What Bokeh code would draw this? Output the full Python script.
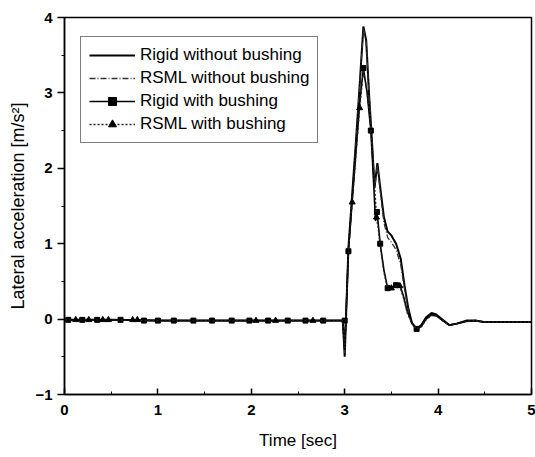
from bokeh.plotting import figure
from bokeh.models import Range1d, FixedTicker, Legend, LegendItem
from bokeh.embed import file_html
from bokeh.resources import INLINE

# ---- data ----
x_ticks = [0, 1, 2, 3, 4, 5]
y_ticks = [-1, 0, 1, 2, 3, 4]

rigid_nb_t = [0, 0.5, 1, 1.5, 2, 2.5, 2.98, 3.0, 3.04, 3.08, 3.12, 3.16, 3.2, 3.23, 3.26, 3.29,
              3.32, 3.35, 3.38, 3.42, 3.46, 3.5, 3.55, 3.6, 3.64, 3.68, 3.72, 3.77, 3.82, 3.87,
              3.93, 3.98, 4.05, 4.12, 4.2, 4.3, 4.4, 4.5, 4.65, 4.8, 5.0]
rigid_nb_a = [-0.01, -0.01, -0.02, -0.02, -0.02, -0.02, -0.02, -0.5, 0.95, 1.65, 2.35, 3.1, 3.88, 3.7, 3.0, 2.4,
              1.75, 2.07, 1.75, 1.35, 1.16, 1.11, 1.0, 0.8, 0.45, 0.15, -0.05, -0.13, -0.08, 0.02,
              0.08, 0.06, -0.01, -0.08, -0.06, -0.02, -0.02, -0.04, -0.04, -0.04, -0.04]

rsml_nb_t = [0, 0.5, 1, 1.5, 2, 2.5, 2.98, 3.0, 3.04, 3.08, 3.12, 3.16, 3.2, 3.23, 3.26, 3.29,
             3.32, 3.35, 3.38, 3.42, 3.46, 3.5, 3.55, 3.6, 3.64, 3.68, 3.72, 3.77, 3.82, 3.87,
             3.93, 3.98, 4.05, 4.12, 4.2, 4.3, 4.4, 4.5, 4.65, 4.8, 5.0]
rsml_nb_a = [-0.01, -0.01, -0.02, -0.02, -0.02, -0.02, -0.02, -0.45, 0.93, 1.62, 2.32, 3.08, 3.86, 3.68, 2.98, 2.38,
             1.73, 2.04, 1.7, 1.28, 1.08, 1.02, 0.92, 0.72, 0.4, 0.12, -0.07, -0.14, -0.1, 0.0,
             0.05, 0.04, -0.02, -0.08, -0.06, -0.03, -0.03, -0.04, -0.04, -0.04, -0.04]

rigid_wb_t = [0, 0.5, 1, 1.5, 2, 2.5, 2.98, 3.0, 3.04, 3.08, 3.12, 3.16, 3.2, 3.24, 3.28, 3.31,
              3.33, 3.345, 3.36, 3.38, 3.42, 3.46, 3.5, 3.55, 3.59, 3.63, 3.67, 3.72, 3.77, 3.82,
              3.87, 3.93, 3.98, 4.05, 4.12, 4.2, 4.3, 4.4, 4.5, 4.65, 4.8, 5.0]
rigid_wb_a = [-0.01, -0.01, -0.02, -0.02, -0.02, -0.02, -0.02, -0.4, 0.9, 1.57, 2.2, 2.85, 3.33, 3.0, 2.5, 1.8,
              1.3, 1.42, 1.25, 1.0, 0.65, 0.41, 0.42, 0.45, 0.46, 0.3, 0.1, -0.05, -0.13, -0.1,
              0.0, 0.06, 0.05, -0.02, -0.08, -0.06, -0.03, -0.02, -0.04, -0.04, -0.04, -0.04]

rsml_wb_t = [0, 0.5, 1, 1.5, 2, 2.5, 2.98, 3.0, 3.04, 3.08, 3.12, 3.16, 3.2, 3.24, 3.28, 3.31,
             3.34, 3.36, 3.38, 3.42, 3.46, 3.5, 3.55, 3.59, 3.63, 3.67, 3.72, 3.77, 3.82,
             3.87, 3.93, 3.98, 4.05, 4.12, 4.2, 4.3, 4.4, 4.5, 4.65, 4.8, 5.0]
rsml_wb_a = [-0.01, -0.01, -0.02, -0.02, -0.02, -0.02, -0.02, -0.38, 0.88, 1.55, 2.18, 2.8, 3.3, 3.02, 2.55, 2.0,
             1.35, 1.2, 0.98, 0.62, 0.4, 0.41, 0.44, 0.44, 0.28, 0.08, -0.06, -0.13, -0.1,
             -0.01, 0.05, 0.04, -0.02, -0.08, -0.06, -0.03, -0.02, -0.04, -0.04, -0.04, -0.04]

rigid_wb_mark_t = [0.04, 0.19, 0.35, 0.6, 0.85, 1.0, 1.17, 1.38, 1.58, 1.79, 1.98, 2.18, 2.39, 2.58, 2.77,
                   3.0, 3.04, 3.2, 3.28, 3.345, 3.38, 3.46, 3.55, 3.77]
rigid_wb_mark_a = [-0.01, -0.01, -0.01, -0.01, -0.02, -0.02, -0.02, -0.02, -0.02, -0.02, -0.02, -0.02, -0.02,
                   -0.02, -0.02, -0.02, 0.9, 3.33, 2.5, 1.42, 1.0, 0.41, 0.45, -0.13]
rsml_wb_mark_t = [0.12, 0.26, 0.41, 0.47, 0.73, 0.78, 2.05, 2.26, 2.66, 3.08, 3.16, 3.34, 3.5, 3.59]
rsml_wb_mark_a = [-0.01, -0.01, -0.01, -0.01, -0.01, -0.01, -0.02, -0.02, -0.02, 1.55, 2.8, 1.35, 0.41, 0.44]

FONT = "Liberation Sans"

p = figure(width=535, height=457, output_backend="svg", toolbar_location=None,
           x_range=Range1d(0, 5), y_range=Range1d(-1, 4),
           min_border_left=64, min_border_right=4, min_border_top=17, min_border_bottom=63)
p.background_fill_color = "white"
p.border_fill_color = "white"
p.outline_line_color = "black"
p.outline_line_width = 1.5
p.grid.visible = False

r1 = p.line(rigid_nb_t, rigid_nb_a, line_color="black", line_width=2)
r2 = p.line(rsml_nb_t, rsml_nb_a, line_color="#333333", line_width=1.3, line_dash="6 2 1 2")
r3 = p.line(rigid_wb_t, rigid_wb_a, line_color="black", line_width=1.6)
r3m = p.scatter(rigid_wb_mark_t, rigid_wb_mark_a, marker="square", size=5, color="black")
r4 = p.line(rsml_wb_t, rsml_wb_a, line_color="#222222", line_width=1.4, line_dash="2 2")
r4m = p.scatter(rsml_wb_mark_t, rsml_wb_mark_a, marker="triangle", size=6, color="black")

xa = p.xaxis[0]
xa.ticker = FixedTicker(ticks=x_ticks, minor_ticks=[0.5, 1.5, 2.5, 3.5, 4.5])
xa.major_tick_in = 6
xa.major_tick_out = 0
xa.minor_tick_in = 3
xa.minor_tick_out = 0
xa.major_label_standoff = 10
xa.axis_label = "Time [sec]"
xa.axis_label_standoff = 13

ya = p.yaxis[0]
ya.ticker = FixedTicker(ticks=y_ticks, minor_ticks=[-0.5, 0.5, 1.5, 2.5, 3.5])
ya.major_tick_in = 0
ya.major_tick_out = 7
ya.minor_tick_in = 0
ya.minor_tick_out = 3
ya.major_label_standoff = 5
ya.axis_label = "Lateral acceleration [m/s²]"
ya.axis_label_standoff = 4

for ax in (xa, ya):
    ax.axis_line_color = "black"
    ax.axis_line_width = 1.5
    ax.major_tick_line_color = "black"
    ax.major_tick_line_width = 1.5
    ax.minor_tick_line_color = "black"
    ax.major_label_text_font = FONT
    ax.major_label_text_font_size = "15px"
    ax.major_label_text_font_style = "bold"
    ax.major_label_text_color = "black"
    ax.axis_label_text_font = FONT
    ax.axis_label_text_font_size = "17px"
    ax.axis_label_text_font_style = "normal"
    ax.axis_label_text_color = "black"
ya.axis_label_text_font_size = "18px"

legend = Legend(items=[
    LegendItem(label="Rigid without bushing", renderers=[r1]),
    LegendItem(label="RSML without bushing", renderers=[r2]),
    LegendItem(label="Rigid with bushing", renderers=[r3, r3m]),
    LegendItem(label="RSML with bushing", renderers=[r4, r4m]),
], location=(16, 251))
legend.border_line_color = "black"
legend.border_line_width = 1.2
legend.background_fill_alpha = 1
legend.label_text_font = FONT
legend.label_text_font_size = "17px"
legend.label_text_color = "black"
legend.glyph_width = 46
legend.glyph_height = 20
legend.label_height = 20
legend.spacing = 3
legend.padding = 8
legend.label_standoff = 5
legend.margin = 0
p.add_layout(legend, "center")

open("out.html", "w").write(file_html(p, INLINE))
